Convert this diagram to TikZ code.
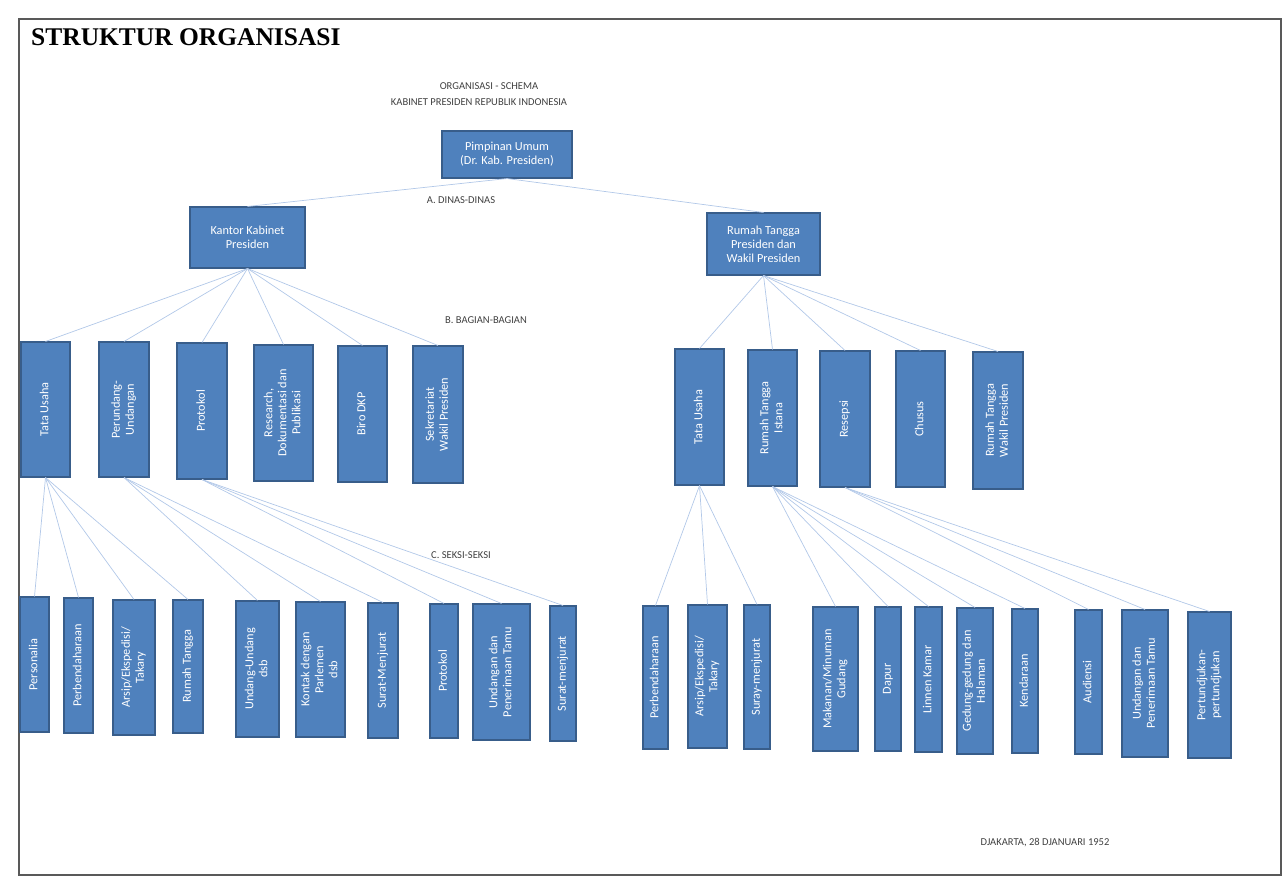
\documentclass[tikz,border=0pt]{standalone}
\usepackage{fontspec}
\setmainfont{Carlito}
\newfontfamily\titlefont{Liberation Serif}
\usepackage{graphicx}
\definecolor{boxblue}{RGB}{79,129,189}
\definecolor{boxedge}{RGB}{56,93,138}
\definecolor{linkblue}{RGB}{178,200,232}
\newcommand{\vtext}[1]{\rotatebox{90}{\begin{tabular}{@{}c@{}}#1\end{tabular}}}
\begin{document}
\begin{tikzpicture}[x=0.2mm,y=-0.2mm,
	box/.style={draw=boxedge, fill=boxblue, text=white, line width=0.6pt,
		inner sep=1pt, align=center, font=\fontsize{7}{8}\selectfont},
	boxsize/.style 2 args={minimum width=#1*0.2mm, minimum height=#2*0.2mm},
	link/.style={draw=linkblue, line width=0.4pt},
	lbl/.style={font=\fontsize{6}{7}\selectfont, text=black!75}]
	\useasboundingbox (0,0) rectangle (1285,887);
	\draw[black!65, line width=0.7pt] (19,19) rectangle (1281,875);
	\node[anchor=base west, font=\titlefont\bfseries\fontsize{14.5}{16}\selectfont] (title) at (25,45) {STRUKTUR ORGANISASI};
	\node[lbl] (head1) at (489,86) {ORGANISASI - SCHEMA};
	\node[lbl] (head2) at (479,102) {KABINET PRESIDEN REPUBLIK INDONESIA};
	\node[lbl] (dinas) at (461,200) {A. DINAS-DINAS};
	\node[lbl] (bagian) at (486,320) {B. BAGIAN-BAGIAN};
	\node[lbl] (seksi) at (461,555) {C. SEKSI-SEKSI};
	\node[lbl] (tanggal) at (1045,843) {DJAKARTA, 28 DJANUARI 1952};
	% pimpinan dan dinas
	\node[box, boxsize={130}{47}] (pimpinan) at (507,154.5) {Pimpinan Umum\\(Dr. Kab. Presiden)};
	\node[box, boxsize={115}{61}] (kantor) at (247.5,237.5) {Kantor Kabinet\\Presiden};
	\node[box, boxsize={113}{62}] (rumah) at (763.5,244) {Rumah Tangga\\Presiden dan\\Wakil Presiden};
	% bagian-bagian kantor kabinet
	\node[box, boxsize={49}{135}] (tu1) at (45.5,409.5) {\vtext{Tata Usaha}};
	\node[box, boxsize={50}{135}] (pu) at (124,409.5) {\vtext{Perundang-\\Undangan}};
	\node[box, boxsize={50}{136}] (prot1) at (202,411) {\vtext{Protokol}};
	\node[box, boxsize={59}{136}] (res) at (283.5,413) {\vtext{Research,\\Dokumentasi dan\\Publikasi}};
	\node[box, boxsize={49}{136}] (biro) at (362.5,414) {\vtext{Biro DKP}};
	\node[box, boxsize={50}{137}] (sek) at (438,414.5) {\vtext{Sekretariat\\Wakil Presiden}};
	% bagian-bagian rumah tangga
	\node[box, boxsize={49}{136}] (tu2) at (699.5,417) {\vtext{Tata Usaha}};
	\node[box, boxsize={49}{136}] (rti) at (772.5,418) {\vtext{Rumah Tangga\\Istana}};
	\node[box, boxsize={50}{136}] (resp) at (845,419) {\vtext{Resepsi}};
	\node[box, boxsize={49}{136}] (chusus) at (920.5,419) {\vtext{Chusus}};
	\node[box, boxsize={50}{137}] (rtw) at (998,420.5) {\vtext{Rumah Tangga\\Wakil Presiden}};
	% seksi-seksi kiri
	\node[box, boxsize={29}{135}] (pers) at (34.5,664.5) {\vtext{Personalia}};
	\node[box, boxsize={29}{135}] (perb1) at (78.5,665.5) {\vtext{Perbendaharaan}};
	\node[box, boxsize={42}{135}] (arsip1) at (134,667.5) {\vtext{Arsip/Ekspedisi/\\Takary}};
	\node[box, boxsize={30}{133}] (rtg) at (188,666.5) {\vtext{Rumah Tangga}};
	\node[box, boxsize={43}{136}] (uu) at (257.5,669) {\vtext{Undang-Undang\\dsb}};
	\node[box, boxsize={49}{135}] (kontak) at (320.5,669.5) {\vtext{Kontak dengan\\Parlemen\\dsb}};
	\node[box, boxsize={30}{135}] (sm1) at (383,670.5) {\vtext{Surat-Menjurat}};
	\node[box, boxsize={28}{134}] (prot2) at (444,671) {\vtext{Protokol}};
	\node[box, boxsize={57}{136}] (und1) at (501.5,672) {\vtext{Undangan dan\\Penerimaan Tamu}};
	\node[box, boxsize={26}{135}] (sm2) at (563,673.5) {\vtext{Surat-menjurat}};
	% seksi-seksi kanan
	\node[box, boxsize={25}{143}] (perb2) at (655.5,677.5) {\vtext{Perbendaharaan}};
	\node[box, boxsize={39}{143}] (arsip2) at (707.5,676.5) {\vtext{Arsip/Ekspedisi/\\Takary}};
	\node[box, boxsize={26}{144}] (suray) at (757,677) {\vtext{Suray-menjurat}};
	\node[box, boxsize={45}{144}] (makan) at (835.5,679) {\vtext{Makanan/Minuman\\Gudang}};
	\node[box, boxsize={26}{144}] (dapur) at (888,679) {\vtext{Dapur}};
	\node[box, boxsize={27}{145}] (linnen) at (928.5,679.5) {\vtext{Linnen Kamar}};
	\node[box, boxsize={36}{146}] (gedung) at (975,681) {\vtext{Gedung-gedung dan\\Halaman}};
	\node[box, boxsize={26}{144}] (kend) at (1025,681) {\vtext{Kendaraan}};
	\node[box, boxsize={27}{144}] (aud) at (1088.5,682) {\vtext{Audiensi}};
	\node[box, boxsize={46}{147}] (und2) at (1145,683.5) {\vtext{Undangan dan\\Penerimaan Tamu}};
	\node[box, boxsize={43}{146}] (pert) at (1209.5,685) {\vtext{Pertundjukan-\\pertundjukan}};
	% garis
	\draw[link] (pimpinan.south) -- (kantor.north);
	\draw[link] (pimpinan.south) -- (rumah.north);
	\foreach \c in {tu1,pu,prot1,res,biro,sek}
		\draw[link] (kantor.south) -- (\c.north);
	\foreach \c in {tu2,rti,resp,chusus,rtw}
		\draw[link] (rumah.south) -- (\c.north);
	\foreach \c in {pers,perb1,arsip1,rtg}
		\draw[link] (tu1.south) -- (\c.north);
	\foreach \c in {uu,kontak,sm1}
		\draw[link] (pu.south) -- (\c.north);
	\foreach \c in {prot2,und1,sm2}
		\draw[link] (prot1.south) -- (\c.north);
	\foreach \c in {perb2,arsip2,suray}
		\draw[link] (tu2.south) -- (\c.north);
	\foreach \c in {makan,dapur,linnen,gedung,kend}
		\draw[link] (rti.south) -- (\c.north);
	\foreach \c in {aud,und2,pert}
		\draw[link] (resp.south) -- (\c.north);
\end{tikzpicture}
\end{document}
